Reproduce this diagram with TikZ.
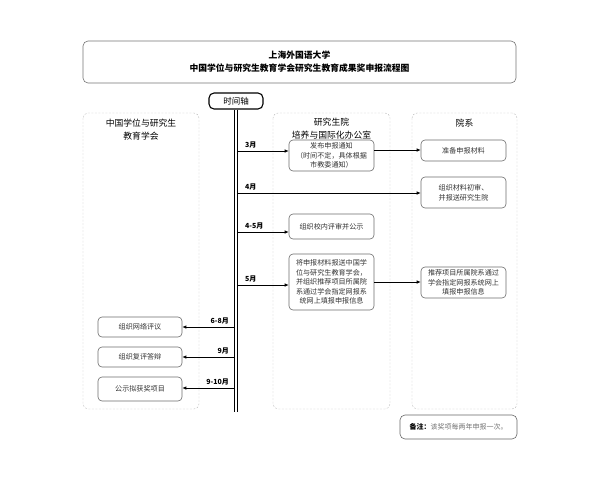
\documentclass[tikz,border=0pt]{standalone}
\usepackage{fontspec}
\setmainfont{Noto Sans CJK SC}
\usetikzlibrary{arrows.meta}

\begin{document}
\begin{tikzpicture}[x=1pt, y=-1pt,
    lane/.style={draw=gray!50, dash pattern=on 2pt off 1.5pt, rounded corners=5pt},
    stepbox/.style={draw=gray!85!black, line width=0.6pt, rounded corners=4pt, align=center,
        text=black!80, font=\fontsize{7.1}{9.6}\selectfont, inner sep=1pt},
    month/.style={font=\bfseries\fontsize{7}{8}\selectfont, inner sep=1pt},
    arr/.style={-{Latex[length=4pt,width=3.5pt]}, line width=0.7pt}]
    \useasboundingbox (0,0) rectangle (600,480);

    % title
    \node[draw=gray!90!black, line width=0.6pt, rounded corners=5pt, minimum width=433pt, minimum height=42pt,
        align=center, font=\bfseries\fontsize{8.8}{13}\selectfont] (title) at (299.5,62)
        {上海外国语大学\\中国学位与研究生教育学会研究生教育成果奖申报流程图};

    % lanes
    \draw[lane] (83,113) rectangle (199,409);
    \draw[lane] (273,113) rectangle (390,409);
    \draw[lane] (412,113) rectangle (517,409);
    \node[align=center, font=\fontsize{8.8}{12.5}\selectfont] (lanea) at (141,129.5) {中国学位与研究生\\教育学会};
    \node[align=center, font=\fontsize{8.8}{12.5}\selectfont] (laneb) at (331.5,128.5) {研究生院\\培养与国际化办公室};
    \node[font=\fontsize{8.8}{12.5}\selectfont] (lanec) at (464.5,123) {院系};

    % time axis
    \node[draw, line width=1.1pt, rounded corners=5pt, minimum width=54pt, minimum height=16pt,
        font=\fontsize{8.5}{10}\selectfont] (axis) at (236,101) {时间轴};
    \coordinate (axisend) at (236,412);
    \draw[double, double distance=1.6pt, line width=1pt] (axis.south) -- (axisend);

    % boxes
    \node[stepbox, minimum width=85pt, minimum height=31pt] (notice) at (331.5,155.5)
        {发布申报通知\\（时间不定，具体根据\\市教委通知）};
    \node[stepbox, minimum width=85pt, minimum height=21pt] (prepare) at (463.5,150.5) {准备申报材料};
    \node[stepbox, minimum width=85pt, minimum height=31pt] (firstcheck) at (463.5,192.5)
        {组织材料初审、\\并报送研究生院};
    \node[stepbox, minimum width=85pt, minimum height=25pt] (review) at (331.5,226.5) {组织校内评审并公示};
    \node[stepbox, minimum width=85pt, minimum height=56pt] (submit) at (331.5,282)
        {将申报材料报送中国学\\位与研究生教育学会，\\并组织推荐项目所属院\\系通过学会指定网报系\\统网上填报申报信息};
    \node[stepbox, minimum width=85pt, minimum height=31pt] (online) at (463.5,282.5)
        {推荐项目所属院系通过\\学会指定网报系统网上\\填报申报信息};
    \node[stepbox, minimum width=84pt, minimum height=20pt] (netreview) at (140,327) {组织网络评议};
    \node[stepbox, minimum width=84pt, minimum height=20pt] (defense) at (140,357) {组织复评答辩};
    \node[stepbox, minimum width=84pt, minimum height=24pt] (publish) at (140,389) {公示拟获奖项目};

    % arrows to the right
    \foreach \y/\target/\lbl in {151/notice/3月, 193/firstcheck/4月, 232/review/4-5月, 285/submit/5月} {
        \draw[arr] (238,\y) -- (\target.west |- 0,\y);
        \node[month, anchor=south west] at (244,\y-2) {\lbl};
    }
    \draw[arr] (notice.east |- 0,150) -- (prepare.west |- 0,150);
    \draw[arr] (submit.east |- 0,282) -- (online.west |- 0,282);

    % arrows to the left
    \foreach \y/\target/\lbl in {327/netreview/6-8月, 357/defense/9月, 388/publish/9-10月} {
        \draw[arr] (234,\y) -- (\target.east |- 0,\y);
        \node[month, anchor=south east] at (230,\y-2) {\lbl};
    }

    % note
    \node[draw=gray!80!black, line width=0.6pt, rounded corners=5pt, minimum width=117pt, minimum height=24pt,
        font=\fontsize{7}{8}\selectfont] (note) at (458.5,427) {\textbf{备注：}{\color{gray!90!black}该奖项每两年申报一次。}};
\end{tikzpicture}
\end{document}
